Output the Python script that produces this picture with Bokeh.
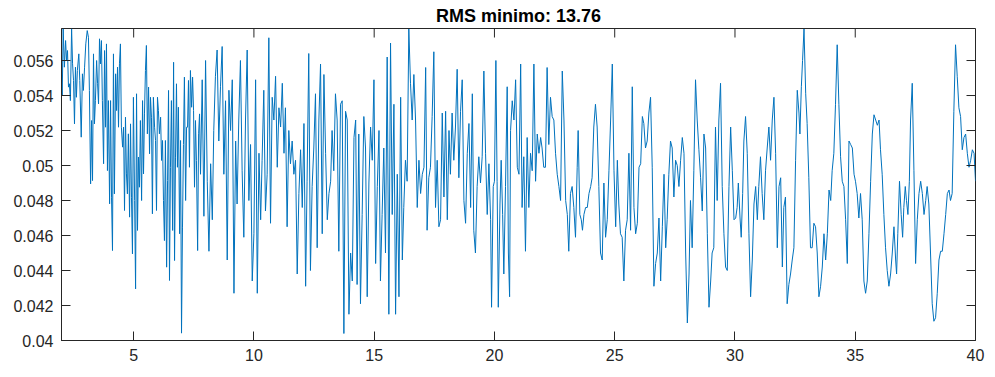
from bokeh.plotting import figure
from bokeh.models import Range1d, FixedTicker, PrintfTickFormatter
from bokeh.embed import file_html
from bokeh.resources import INLINE

title_text = "RMS minimo: 13.76"
x_ticks = [5, 10, 15, 20, 25, 30, 35, 40]
y_ticks = [0.04, 0.042, 0.044, 0.046, 0.048, 0.05, 0.052, 0.054, 0.056]
x_lim = (2, 40)
y_lim = (0.04, 0.05783)

# --- data, read segment by segment (x = abscissa, v = value) ---
xa = [2.00,2.03,2.07,2.12,2.17,2.21,2.25,2.29,2.33,2.37,
      2.42,2.46,2.50,2.54,2.58,2.62,2.66,2.72,2.76,2.82,
      2.87,2.91,2.96,3.01,3.07,3.12,3.16,3.21,3.25,3.29,
      3.33,3.37,3.41,3.46,3.50,3.54,3.58,3.62,3.66,3.70,
      3.75,3.79,3.83,3.87,3.91,3.95,4.00,4.04,4.08,4.12,
      4.16,4.20,4.25,4.29,4.33,4.37,4.41,4.45,4.49,4.54,
      4.58,4.62,4.66,4.70,4.74,4.78,4.83,4.87,4.91,4.95,
      4.99,5.04,5.08,5.12,5.16,5.20,5.24,5.28,5.33,5.37,
      5.41,5.45,5.49,5.53,5.57,5.62,5.66,5.70,5.74,5.78,
      5.82,5.87,5.91,5.95,5.99,6.03,6.07,6.12,6.16,6.20,
      6.24,6.28,6.32,6.37,6.41,6.45,6.49,6.53,6.57,6.62,
      6.66,6.70,6.74,6.78,6.82,6.86,6.91,6.95,6.99,7.03,
      7.07,7.11,7.16,7.20,7.24,7.28,7.32,7.36,7.41,7.45,
      7.49,7.53,7.57,7.61,7.66,7.70,7.74]
va = [0.05476,0.05400,0.05781,0.05562,0.05714,0.05600,0.05657,0.05448,0.05467,0.05371,
      0.05781,0.05581,0.05486,0.05238,0.05562,0.05390,0.05543,0.05638,0.05486,0.05162,
      0.05524,0.05429,0.05562,0.05695,0.05771,0.05733,0.05429,0.04895,0.05257,0.04914,
      0.05638,0.05238,0.05371,0.05600,0.05467,0.05352,0.05724,0.05581,0.05714,0.05371,
      0.05010,0.05657,0.05219,0.05695,0.04971,0.05371,0.04781,0.05371,0.04819,0.04514,
      0.05638,0.04838,0.05524,0.05314,0.05562,0.05219,0.05581,0.05695,0.05219,0.05105,
      0.05219,0.04743,0.05276,0.04952,0.04838,0.05181,0.04705,0.05238,0.04819,0.04495,
      0.05390,0.04800,0.04295,0.05410,0.04629,0.05048,0.04876,0.05257,0.04800,0.05371,
      0.04952,0.05295,0.05543,0.05686,0.05181,0.05448,0.05067,0.05390,0.05276,0.04724,
      0.05390,0.05219,0.05143,0.04743,0.05390,0.05314,0.05181,0.05276,0.05029,0.05143,
      0.04800,0.04571,0.05143,0.04419,0.04914,0.05429,0.04343,0.04990,0.05371,0.04629,
      0.05590,0.04457,0.05048,0.05467,0.04990,0.05333,0.04610,0.05143,0.04042,0.04648,
      0.05120,0.05505,0.04800,0.05219,0.05219,0.05486,0.04990,0.05543,0.05333,0.05505,
      0.05314,0.04876,0.05257,0.05029,0.04514,0.05181,0.05295]

xb = [7.78,7.85,7.92,7.99,8.06,8.13,8.20,8.27,8.33,8.40,8.47,8.54,8.61,8.68,8.75,8.82,
      8.89,8.96,9.03,9.10,9.17,9.24,9.30,9.37]
vb = [0.0495,0.0549,0.0471,0.0560,0.0491,0.0451,0.0501,0.0469,0.0520,0.0551,0.0566,0.0514,
      0.0545,0.0568,0.0495,0.0537,0.0446,0.0543,0.0520,0.0549,0.0427,0.0514,0.0478,0.0526]

xc = [9.44,9.51,9.58,9.65,9.72,9.79,9.86,9.93,10.00,10.07,
      10.14,10.21,10.28,10.34,10.41,10.48,10.55,10.62,10.69,10.76,
      10.83,10.90,10.97,11.04,11.11,11.18,11.25,11.31,11.38,11.45,
      11.52,11.59,11.66,11.73,11.80,11.87,11.94,12.01,12.08,12.15,
      12.21,12.28,12.35,12.42,12.49,12.56,12.63,12.70,12.77,12.84,
      12.91,12.98,13.05,13.12]
vc = [0.0560,0.0497,0.0459,0.0526,0.0566,0.0480,0.0512,0.0434,0.0461,0.0549,
      0.0427,0.0507,0.0469,0.0503,0.0543,0.0474,0.0495,0.0573,0.0467,0.0539,
      0.0526,0.0551,0.0499,0.0533,0.0522,0.0547,0.0507,0.0533,0.0465,0.0520,
      0.0501,0.0514,0.0495,0.0503,0.0438,0.0484,0.0509,0.0476,0.0524,0.0431,
      0.0491,0.0564,0.0440,0.0488,0.0510,0.0541,0.0453,0.0526,0.0558,0.0461,
      0.0552,0.0507,0.0469,0.0484]

xd = [13.19,13.25,13.32,13.39,13.46,13.53,13.60,13.67,13.74,13.81,
      13.88,13.95,14.02,14.09,14.16,14.23,14.29,14.36,14.43,14.50,
      14.57,14.64,14.71,14.78,14.85,14.92,14.99,15.06,15.13,15.20,
      15.26,15.33,15.40,15.47,15.54,15.61,15.68,15.75,15.82,15.89,
      15.96,16.03,16.10,16.17,16.23,16.30,16.37,16.44,16.51,16.58,
      16.65,16.72,16.79,16.86]
vd = [0.0491,0.0520,0.0497,0.0541,0.0526,0.0451,0.0535,0.0537,0.0404,0.0531,
      0.0526,0.0415,0.0450,0.0434,0.0516,0.0526,0.0432,0.0518,0.0421,0.0472,
      0.0528,0.0510,0.0425,0.0490,0.0522,0.0503,0.0549,0.0444,0.0488,0.0520,
      0.0434,0.0472,0.0510,0.0450,0.0562,0.0415,0.0570,0.0472,0.0535,0.0415,
      0.0495,0.0425,0.0539,0.0446,0.0476,0.0503,0.0491,0.0578,0.0547,0.0526,
      0.0552,0.0526,0.0476,0.0503]

xe = [16.93,17.00,17.07,17.14,17.20,17.27,17.34,17.41,17.48,17.55,
      17.62,17.69,17.76,17.83,17.90,17.97,18.04,18.11,18.17,18.24,
      18.31,18.38,18.45,18.52,18.59,18.66,18.73,18.80,18.87,18.94,
      19.01,19.08,19.14,19.21,19.28,19.35,19.42,19.49,19.56,19.63,
      19.70,19.77,19.84,19.88,19.95,20.00,20.06,20.11,20.16,20.23,
      20.28,20.34,20.39,20.46,20.53,20.58,20.63]
ve = [0.0484,0.0495,0.0499,0.0556,0.0463,0.0493,0.0499,0.0528,0.0565,0.0476,
      0.0503,0.0465,0.0469,0.0530,0.0482,0.0531,0.0469,0.0520,0.0495,0.0530,
      0.0503,0.0522,0.0555,0.0493,0.0531,0.0549,0.0480,0.0467,0.0507,0.0524,
      0.0476,0.0541,0.0463,0.0450,0.0488,0.0505,0.0490,0.0505,0.0554,0.0507,
      0.0472,0.0501,0.0469,0.0419,0.0488,0.0491,0.0560,0.0491,0.0419,0.0478,
      0.0503,0.0472,0.0438,0.0488,0.0545,0.0450,0.0425]

xf = [20.67,20.74,20.81,20.88,20.95,21.02,21.09,21.15,21.22,21.29,
      21.36,21.43,21.50,21.57,21.64,21.71,21.78,21.85,21.92,21.98,
      22.05,22.12,22.19,22.26,22.33,22.40,22.47,22.54,22.61,22.68,
      22.75,22.82,22.89,22.96,23.03,23.09,23.16,23.23,23.30,23.37,
      23.44,23.48,23.55,23.61,23.66,23.72,23.79,23.86,23.93,24.00,
      24.06,24.13,24.20,24.27,24.34]
vf = [0.0520,0.0537,0.0526,0.0549,0.0499,0.0495,0.0558,0.0476,0.0505,0.0451,
      0.0516,0.0476,0.0507,0.0497,0.0558,0.0491,0.0518,0.0507,0.0516,0.0510,
      0.0499,0.0499,0.0556,0.0512,0.0539,0.0528,0.0526,0.0507,0.0495,0.0488,
      0.0480,0.0554,0.0526,0.0480,0.0472,0.0451,0.0484,0.0488,0.0476,0.0459,
      0.0499,0.0520,0.0472,0.0469,0.0463,0.0472,0.0476,0.0476,0.0484,0.0488,
      0.0493,0.0522,0.0535,0.0522,0.0488]

xg = [24.41,24.48,24.55,24.62,24.69,24.76,24.83,24.90,24.97,25.04,
      25.11,25.17,25.24,25.31,25.38,25.45,25.52,25.59,25.66,25.73,
      25.80,25.87,25.94,26.01,26.08,26.15,26.21,26.28,26.35,26.42,
      26.49,26.56,26.63,26.70,26.77,26.84,26.91,26.98,27.05,27.12,
      27.18,27.25,27.32,27.39,27.46,27.53,27.60,27.67,27.74,27.81,
      27.88,27.95,28.02,28.09]
vg = [0.0450,0.0446,0.0490,0.0459,0.0469,0.0497,0.0526,0.0558,0.0497,0.0465,
      0.0503,0.0478,0.0461,0.0459,0.0434,0.0463,0.0469,0.0507,0.0463,0.0545,
      0.0476,0.0461,0.0467,0.0499,0.0501,0.0528,0.0524,0.0510,0.0514,0.0530,
      0.0539,0.0499,0.0431,0.0444,0.0450,0.0470,0.0434,0.0465,0.0495,0.0453,
      0.0469,0.0495,0.0514,0.0510,0.0482,0.0503,0.0500,0.0488,0.0503,0.0516,
      0.0507,0.0450,0.0410,0.0438]

xh = [28.15,28.22,28.29,28.36,28.43,28.50,28.57,28.64,28.71,28.78,
      28.85,28.92,28.99,29.05,29.12,29.19,29.26,29.33,29.40,29.47,
      29.54,29.61,29.68,29.75,29.82,29.89,29.96,30.03,30.09,30.14,
      30.21,30.26,30.32,30.37,30.44,30.51,30.58,30.65,30.72,30.79,
      30.86,30.93,30.99,31.06,31.13,31.20,31.27,31.34,31.41,31.48,
      31.55,31.62,31.69,31.76,31.83]
vh = [0.0480,0.0453,0.0497,0.0549,0.0526,0.0509,0.0493,0.0474,0.0518,0.0510,
      0.0461,0.0419,0.0434,0.0450,0.0453,0.0522,0.0480,0.0526,0.0547,0.0488,
      0.0461,0.0442,0.0440,0.0488,0.0522,0.0497,0.0469,0.0470,0.0476,0.0490,
      0.0470,0.0459,0.0484,0.0514,0.0528,0.0507,0.0461,0.0425,0.0446,0.0478,
      0.0488,0.0469,0.0488,0.0505,0.0484,0.0469,0.0497,0.0510,0.0522,0.0503,
      0.0526,0.0539,0.0507,0.0453,0.0488]

xi = [31.90,31.97,32.03,32.10,32.17,32.24,32.31,32.38,32.45,32.52,
      32.59,32.66,32.70,32.76,32.81,32.87,32.94,33.00,33.07,33.14,
      33.21,33.28,33.35,33.42,33.49,33.56,33.63,33.70,33.77,33.84,
      33.91,33.98,34.04,34.11,34.18,34.25,34.32,34.39,34.46,34.53,
      34.60,34.67,34.74,34.81,34.88,34.95,35.01,35.08,35.15,35.22,
      35.29,35.36,35.43,35.50,35.57,35.64,35.71,35.78,35.85,35.92,
      35.99]
vi = [0.0493,0.0442,0.0476,0.0482,0.0421,0.0432,0.0438,0.0446,0.0453,0.0503,
      0.0543,0.0530,0.0518,0.0545,0.0560,0.0578,0.0541,0.0524,0.0493,0.0453,
      0.0453,0.0467,0.0465,0.0450,0.0425,0.0431,0.0442,0.0461,0.0446,0.0461,
      0.0486,0.0480,0.0497,0.0507,0.0535,0.0569,0.0535,0.0505,0.0491,0.0488,
      0.0469,0.0444,0.0514,0.0512,0.0510,0.0495,0.0491,0.0484,0.0470,0.0484,
      0.0469,0.0434,0.0427,0.0434,0.0461,0.0491,0.0518,0.0529,0.0526,0.0523,
      0.0526]

xj = [36.05,36.12,36.19,36.26,36.33,36.40,36.47,36.54,36.61,36.68,
      36.72,36.77,36.84,36.91,36.97,37.02,37.08,37.13,37.19,37.25,
      37.30,37.37,37.44,37.51,37.58,37.65,37.72,37.79,37.86,37.93,
      37.99,38.06,38.13,38.20,38.27,38.34,38.41,38.48,38.55,38.62,
      38.69,38.76,38.83,38.90,38.96,39.03,39.10,39.17,39.24,39.31,
      39.38,39.45,39.52,39.59,39.66,39.73,39.80,39.87,39.94,40.00]
vj = [0.0509,0.0495,0.0472,0.0453,0.0440,0.0431,0.0438,0.0450,0.0465,0.0446,
      0.0438,0.0461,0.0491,0.0472,0.0459,0.0476,0.0488,0.0480,0.0472,0.0491,
      0.0526,0.0547,0.0497,0.0444,0.0469,0.0484,0.0491,0.0484,0.0472,0.0480,
      0.0488,0.0478,0.0450,0.0421,0.0411,0.0413,0.0427,0.0446,0.0451,0.0451,
      0.0461,0.0472,0.0484,0.0486,0.0480,0.0484,0.0531,0.0569,0.0551,0.0533,
      0.0528,0.0509,0.0516,0.0518,0.0507,0.0499,0.0503,0.0509,0.0507,0.0491]

segments = [(xa, va), (xb, vb), (xc, vc), (xd, vd), (xe, ve), (xf, vf),
            (xg, vg), (xh, vh), (xi, vi), (xj, vj)]
xs, ys = [], []
for i, (sx, sv) in enumerate(segments):
    assert len(sx) == len(sv), (i, len(sx), len(sv))
    xs.extend(sx)
    ys.extend(sv)

AX = "#262626"
FONT = "Liberation Sans"
FW, FH = 914, 312
TICK = 9

p = figure(frame_width=FW, frame_height=FH,
           x_range=Range1d(*x_lim), y_range=Range1d(*y_lim),
           output_backend="svg", toolbar_location=None,
           min_border_left=61, min_border_right=16,
           min_border_top=28, min_border_bottom=33,
           title=title_text)
p.background_fill_color = "white"
p.border_fill_color = "white"
p.outline_line_color = AX
p.outline_line_width = 1
p.xgrid.visible = False
p.ygrid.visible = False

p.title.align = "center"
p.title.text_font = FONT
p.title.text_font_size = "18px"
p.title.text_font_style = "bold"
p.title.text_color = "#000000"
p.title.standoff = 5

p.line(xs, ys, line_color="#0072BD", line_width=1)

for ax, ticks in ((p.xaxis[0], x_ticks), (p.yaxis[0], y_ticks)):
    ax.ticker = FixedTicker(ticks=ticks)
    ax.axis_line_color = AX
    ax.axis_line_width = 1
    ax.major_tick_line_color = AX
    ax.major_tick_in = TICK
    ax.major_tick_out = 0
    ax.minor_tick_line_color = None
    ax.major_label_text_font = FONT
    ax.major_label_text_font_size = "16px"
    ax.major_label_text_color = AX
    ax.major_label_standoff = 8
p.yaxis[0].formatter = PrintfTickFormatter(format="%g")

# box ticks on the top and right edges (MATLAB "box on" style)
dy = TICK * (y_lim[1] - y_lim[0]) / FH
dx = TICK * (x_lim[1] - x_lim[0]) / FW
p.segment(x0=x_ticks, y0=[y_lim[1]] * len(x_ticks),
          x1=x_ticks, y1=[y_lim[1] - dy] * len(x_ticks),
          line_color=AX, line_width=1)
p.segment(x0=[x_lim[1]] * len(y_ticks), y0=y_ticks,
          x1=[x_lim[1] - dx] * len(y_ticks), y1=y_ticks,
          line_color=AX, line_width=1)

open("out.html", "w").write(file_html(p, INLINE))
